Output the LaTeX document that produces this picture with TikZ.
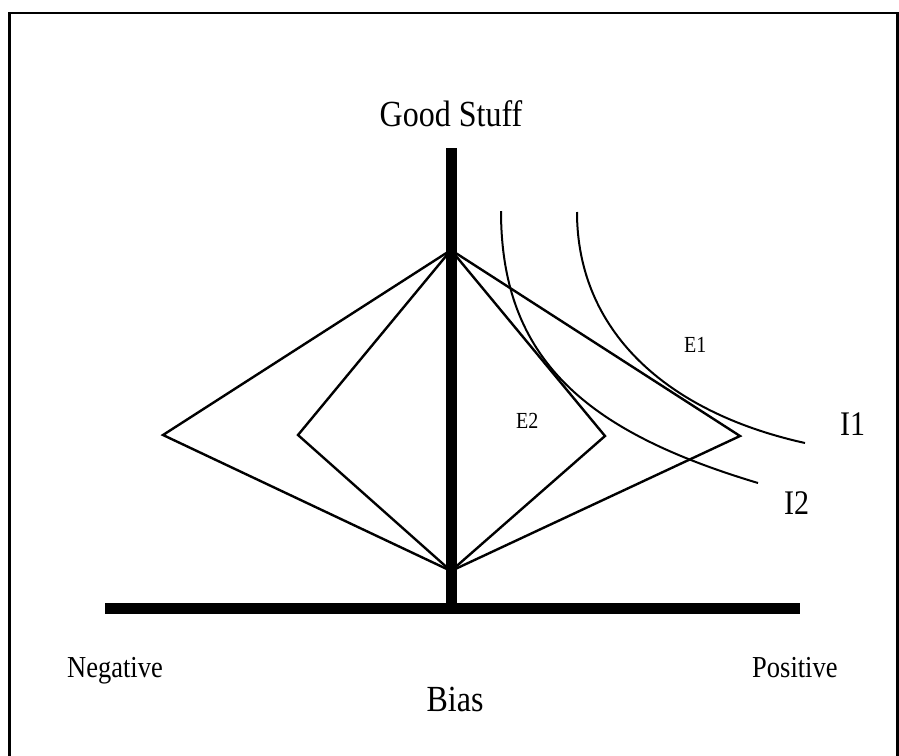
\documentclass[tikz,border=0pt]{standalone}
\usepackage{fontspec}
\setmainfont{Liberation Serif}
\newcommand{\tallt}[1]{\scalebox{1}[1.15]{#1}}
\begin{document}
\begin{tikzpicture}[x=1pt,y=-1pt,
  bar/.style={line width=11pt},
  frameline/.style={line width=2.5pt},
  edge/.style={line width=2.4pt, line join=miter},
  icurve/.style={line width=2pt},
  lbl/.style={inner sep=0pt, anchor=base},
  lblw/.style={inner sep=0pt, anchor=base west},
  big/.style={font=\fontsize{32}{38}\selectfont},
  mid/.style={font=\fontsize{26.5}{30}\selectfont},
  ilbl/.style={font=\fontsize{30}{34}\selectfont},
  small/.style={font=\fontsize{20}{24}\selectfont}]
\useasboundingbox (0,0) rectangle (899,755);
% frame
\coordinate (fbl) at (9.5,770);
\coordinate (ftl) at (9.5,13);
\coordinate (ftr) at (897.5,13);
\coordinate (fbr) at (897.5,770);
\draw[frameline] (fbl) -- (ftl) -- (ftr) -- (fbr);
% axes
\coordinate (vtop) at (451.5,148);
\coordinate (vbot) at (451.5,608);
\coordinate (hl) at (105,608.5);
\coordinate (hr) at (800,608.5);
\draw[bar] (vtop) -- (vbot);
\draw[bar] (hl) -- (hr);
% diamonds
\coordinate (top) at (451,250);
\coordinate (bot) at (451,571);
\coordinate (oL) at (163,435);
\coordinate (oR) at (740,436);
\coordinate (iL) at (298,435);
\coordinate (iR) at (605,436);
\draw[edge] (top) -- (oR) -- (bot) -- (oL) -- cycle;
\draw[edge] (top) -- (iR) -- (bot) -- (iL) -- cycle;
% indifference curves
\coordinate (i2s) at (501,211);
\coordinate (i2e) at (758,483);
\coordinate (i1s) at (577,212);
\coordinate (i1e) at (805,443);
\draw[icurve] (i2s) .. controls (501,361) and (588,432) .. (i2e);
\draw[icurve] (i1s) .. controls (577,330) and (665,412) .. (i1e);
% labels
\node[lbl,big] (good) at (451,126) {\tallt{Good Stuff}};
\node[lbl,big] (bias) at (455,711) {\tallt{Bias}};
\node[lblw,mid] (neg) at (67,677) {\tallt{Negative}};
\node[lblw,mid] (pos) at (752,677) {\tallt{Positive}};
\node[lblw,ilbl] (I1) at (840,435) {\tallt{I1}};
\node[lblw,ilbl] (I2) at (784,514) {\tallt{I2}};
\node[lblw,small] (E1) at (684,352) {\tallt{E1}};
\node[lblw,small] (E2) at (516,428) {\tallt{E2}};
\end{tikzpicture}
\end{document}
